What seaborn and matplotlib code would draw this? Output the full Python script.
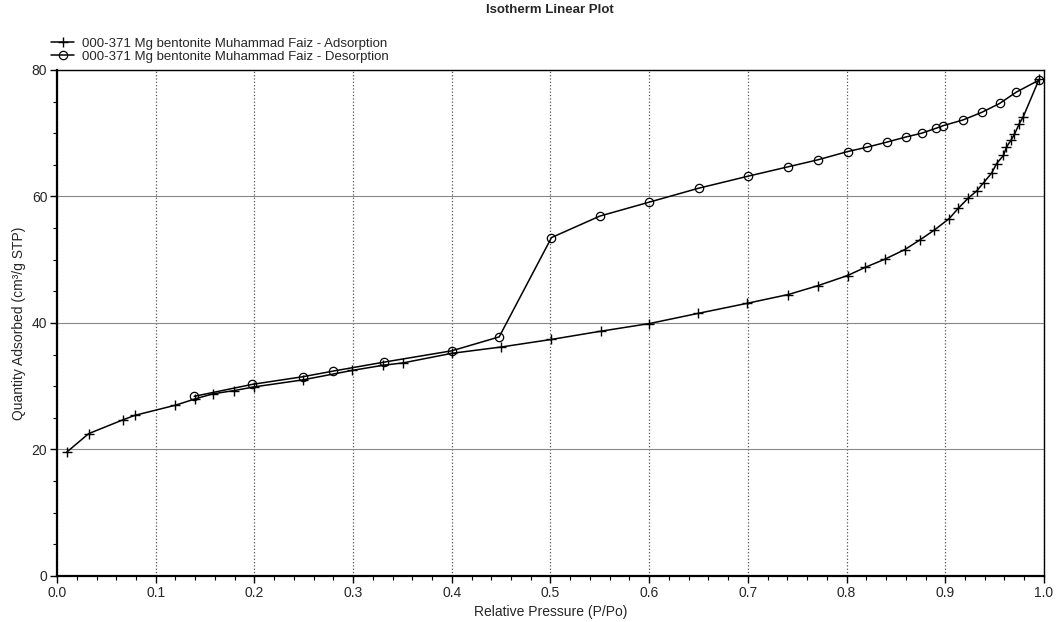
import matplotlib
matplotlib.use("Agg")
import matplotlib.pyplot as plt
import seaborn as sns
import pandas as pd
from matplotlib.ticker import MultipleLocator

# Data
ads_p = [0.010, 0.032, 0.067, 0.079, 0.120, 0.140, 0.158, 0.179, 0.200, 0.249,
         0.299, 0.330, 0.351, 0.400, 0.450, 0.501, 0.551, 0.600, 0.649, 0.699,
         0.741, 0.771, 0.801, 0.819, 0.839, 0.859, 0.874, 0.889, 0.904, 0.913,
         0.923, 0.932, 0.939, 0.947, 0.952, 0.959, 0.962, 0.967, 0.970, 0.975,
         0.979, 0.995]
ads_q = [19.6, 22.5, 24.7, 25.4, 27.0, 28.0, 28.8, 29.3, 29.9, 31.0,
         32.5, 33.3, 33.7, 35.2, 36.2, 37.4, 38.7, 39.9, 41.5, 43.1,
         44.5, 45.9, 47.5, 48.8, 50.1, 51.6, 53.1, 54.7, 56.5, 58.1,
         59.7, 60.9, 62.2, 63.7, 65.2, 66.5, 67.8, 69.0, 69.8, 71.5,
         72.6, 78.5]

des_p = [0.995, 0.972, 0.955, 0.937, 0.918, 0.898, 0.891, 0.876, 0.860, 0.841,
         0.821, 0.801, 0.771, 0.741, 0.700, 0.650, 0.600, 0.550, 0.501, 0.448,
         0.400, 0.331, 0.280, 0.249, 0.198, 0.139]
des_q = [78.4, 76.5, 74.7, 73.3, 72.1, 71.2, 70.8, 70.0, 69.4, 68.6,
         67.8, 67.1, 65.8, 64.7, 63.2, 61.3, 59.1, 56.9, 53.5, 37.8,
         35.6, 33.8, 32.4, 31.5, 30.3, 28.4]

ads_label = "000-371 Mg bentonite Muhammad Faiz - Adsorption"
des_label = "000-371 Mg bentonite Muhammad Faiz - Desorption"
title = "Isotherm Linear Plot"
xlabel = "Relative Pressure (P/Po)"
ylabel = "Quantity Adsorbed (cm³/g STP)"

sns.set_theme(style="white")
plt.rcParams['font.family'] = ['Liberation Sans', 'DejaVu Sans']

fig = plt.figure(figsize=(10.56, 6.22), dpi=100)
ax = fig.add_axes([0.054, 0.074, 0.9346, 0.8135])

ads = pd.DataFrame({"p": ads_p, "q": ads_q})
des = pd.DataFrame({"p": des_p, "q": des_q})

sns.lineplot(data=ads, x="p", y="q", sort=False, estimator=None, ax=ax,
             color="black", linewidth=1.1, marker="+", markersize=7.5,
             markeredgecolor="black", markeredgewidth=1.0, label=ads_label)
sns.lineplot(data=des, x="p", y="q", sort=False, estimator=None, ax=ax,
             color="black", linewidth=1.1, marker="o", markersize=6,
             markerfacecolor="none", markeredgecolor="black",
             markeredgewidth=0.9, label=des_label)

ax.set_xlim(0, 1.0)
ax.set_ylim(0, 80)
ax.xaxis.set_major_locator(MultipleLocator(0.1))
ax.xaxis.set_minor_locator(MultipleLocator(0.02))
ax.yaxis.set_major_locator(MultipleLocator(20))
ax.yaxis.set_minor_locator(MultipleLocator(5))
ax.set_xticklabels([f"{v:.1f}" for v in ax.get_xticks()])

ax.tick_params(axis="both", which="major", direction="out", length=5, width=1,
               color="black", labelsize=10, pad=2, bottom=True, left=True)
ax.tick_params(axis="both", which="minor", direction="out", length=3, width=0.8,
               color="black", bottom=True, left=True)

ax.grid(False)
ax.xaxis.grid(True, which="major", linestyle=":", color="#555555", linewidth=0.9)
ax.yaxis.grid(True, which="major", linestyle="-", color="#888888", linewidth=0.8)

for side in ["left", "bottom"]:
    ax.spines[side].set_linewidth(1.6)
    ax.spines[side].set_color("black")
for side in ["top", "right"]:
    ax.spines[side].set_linewidth(1.0)
    ax.spines[side].set_color("black")

ax.set_xlabel(xlabel, fontsize=10, labelpad=4)
ax.set_ylabel(ylabel, fontsize=10, labelpad=4)

fig.text(0.521, 0.993, title, ha="center", va="top", fontsize=9.5, fontweight="bold")

leg = ax.legend(loc="upper left", bbox_to_anchor=(0.048, 0.94),
                bbox_transform=fig.transFigure, frameon=False, fontsize=9.5,
                handlelength=1.8, handletextpad=0.6, labelspacing=0.1,
                borderaxespad=0, borderpad=0)

fig.savefig("out.png", dpi=100)
